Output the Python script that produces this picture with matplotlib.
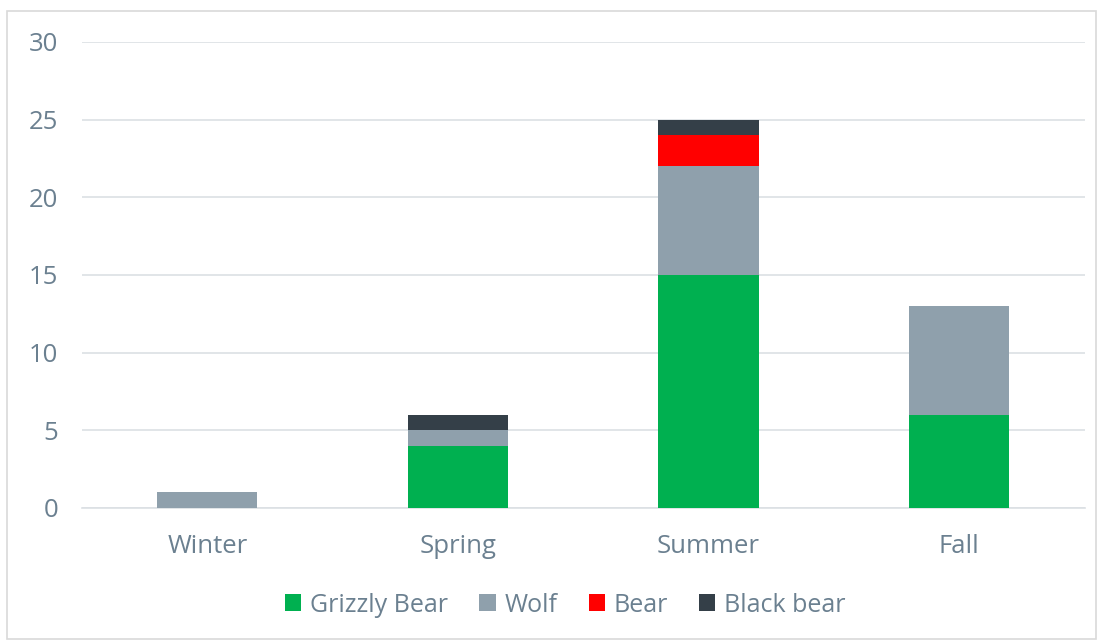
import numpy as np
import matplotlib.pyplot as plt
from matplotlib.patches import Rectangle

seasons = ["Winter", "Spring", "Summer", "Fall"]
grizzly = [0, 4, 15, 6]
wolf = [1, 1, 7, 7]
bear = [0, 0, 2, 0]
black_bear = [0, 1, 1, 0]

series = [("Grizzly Bear", grizzly, "#00B050"),
          ("Wolf", wolf, "#8FA0AC"),
          ("Bear", bear, "#FF0000"),
          ("Black bear", black_bear, "#343F48")]

text_col = "#6B8090"
grid_col = "#DCE0E4"

plt.rcParams['font.family'] = ['Open Sans', 'DejaVu Sans']

fig = plt.figure(figsize=(11, 6.41), dpi=100)
ax = fig.add_axes([0.0745, 0.2075, 0.9115, 0.727])

x = np.arange(len(seasons))
bottom = np.zeros(len(seasons))
for name, vals, col in series:
    vals = np.array(vals, dtype=float)
    ax.bar(x, vals, 0.4, bottom=bottom, color=col, label=name, zorder=3)
    bottom += vals

ax.set_xlim(-0.5, len(seasons) - 0.5)
ax.set_ylim(0, 30)
ax.set_yticks(range(0, 31, 5))
ax.set_xticks(x)
ax.set_xticklabels(seasons)
ax.yaxis.grid(True, color=grid_col, linewidth=1.2, zorder=0)
for s in ["top", "right", "left"]:
    ax.spines[s].set_visible(False)
ax.spines["bottom"].set_color(grid_col)
ax.spines["bottom"].set_linewidth(1.2)
ax.tick_params(axis="both", length=0, colors=text_col, labelsize=18.5)
ax.tick_params(axis="y", pad=17)
ax.tick_params(axis="x", pad=19)

leg = fig.legend(loc="center", bbox_to_anchor=(0.514, 0.056), ncol=4, frameon=False,
                 fontsize=18, handlelength=0.65, handleheight=0.65, handletextpad=0.35,
                 columnspacing=1.25)
for t in leg.get_texts():
    t.set_color(text_col)

fig.patches.append(Rectangle((0.0065, 0.003), 0.99, 0.98, transform=fig.transFigure,
                             fill=False, edgecolor="#D9D9D9", linewidth=1.2))

fig.savefig("out.png", dpi=100)
